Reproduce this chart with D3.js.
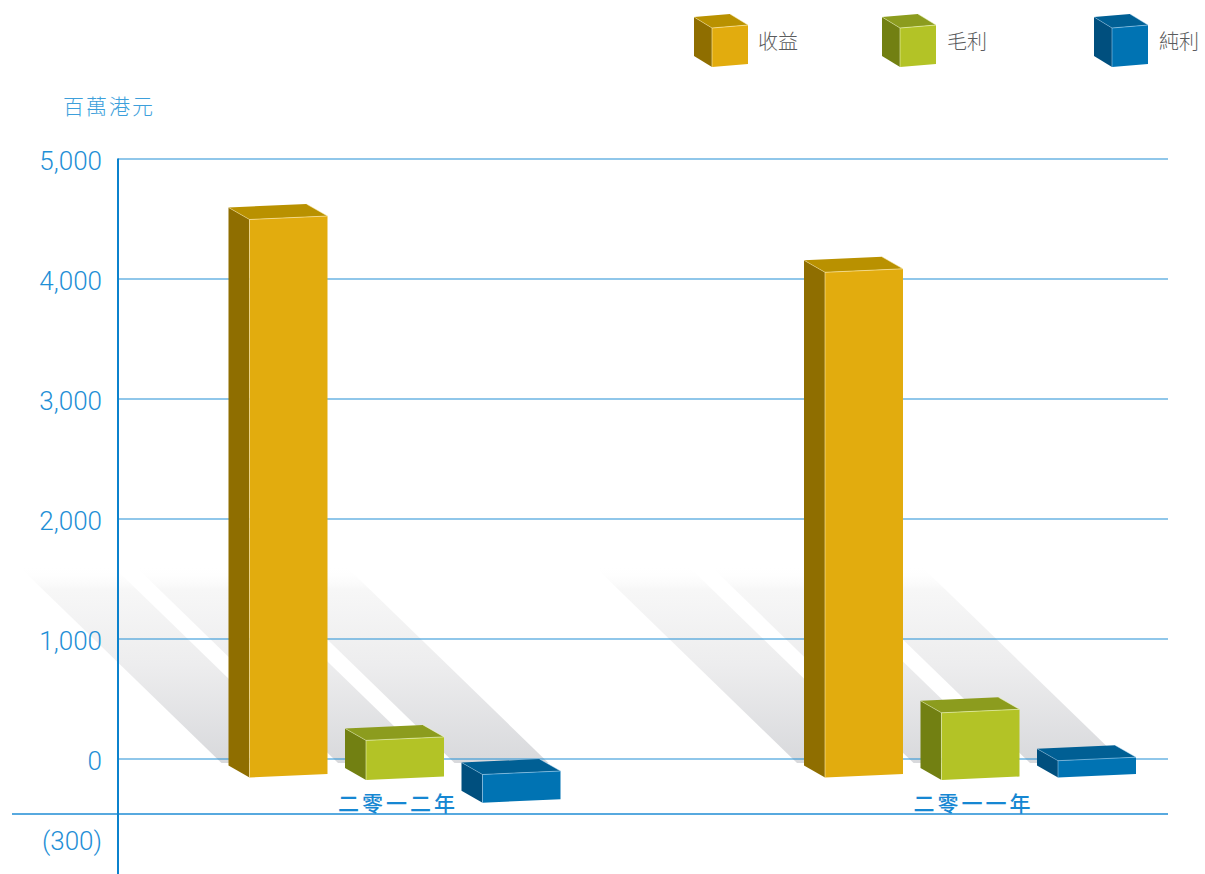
<!DOCTYPE html>
<html>
<head>
<meta charset="utf-8">
<script src="https://cdn.jsdelivr.net/npm/d3@7/dist/d3.min.js"></script>
<style>
  html, body { margin: 0; padding: 0; background: #ffffff; }
  svg { display: block; }
</style>
</head>
<body>
<svg id="chart" width="1205" height="874"></svg>
<script>
// ---------------- DATA ----------------
const categories = ["二零一二年", "二零一一年"];
const seriesNames = ["收益", "毛利", "純利"];
const revenue = [4650, 4210];
const grossProfit = [330, 560];
const netProfit = [-235, 140];
const yTicks = [0, 1000, 2000, 3000, 4000, 5000];
const yTickLabels = ["0", "1,000", "2,000", "3,000", "4,000", "5,000"];
const floorTickLabel = "(300)";
const unitLabel = "百萬港元";

// ---------------- STYLE / LAYOUT ----------------
const seriesValues = [revenue, grossProfit, netProfit];
const faceColors = [
  { front: "#e2ac0e", side: "#8f6e00", top: "#b99100", edge: "rgba(255,240,190,0.7)" },
  { front: "#b3c326", side: "#728012", top: "#8c9c1e", edge: "rgba(240,250,200,0.7)" },
  { front: "#0073b3", side: "#004f7e", top: "#005f94", edge: "rgba(190,225,250,0.6)" }
];
const blue = "#1f8fd6";
const svg = d3.select("#chart");

const y = d3.scaleLinear().domain([0, 5000]).range([759, 159]);
const xGroup = d3.scaleBand().domain(categories).range([210, 1361]);
const xSeries = d3.scaleBand().domain(seriesNames).range([39.5, 350.5]).paddingInner(0.3305).paddingOuter(0);

const plotLeft = 118, plotRight = 1168;
const depthX = 21, depthY = 12, tilt = 3.5, frontDrop = 18.5;
const floorY = y(0) + 55;

// gradient for shadows
const defs = svg.append("defs");
const grad = defs.append("linearGradient").attr("id", "shadowGrad")
  .attr("gradientUnits", "userSpaceOnUse").attr("x1", 0).attr("y1", 566).attr("x2", 0).attr("y2", 763);
grad.append("stop").attr("offset", 0).attr("stop-color", "#ffffff").attr("stop-opacity", 0);
grad.append("stop").attr("offset", 0.12).attr("stop-color", "#f7f7f7").attr("stop-opacity", 1);
grad.append("stop").attr("offset", 0.5).attr("stop-color", "#ededee").attr("stop-opacity", 1);
grad.append("stop").attr("offset", 1).attr("stop-color", "#d8d9dc").attr("stop-opacity", 1);

// build bar records
const bars = [];
categories.forEach((c, ci) => {
  seriesNames.forEach((s, si) => {
    bars.push({ cat: c, series: s, si: si, value: seriesValues[si][ci] });
  });
});

// ---------------- SHADOWS ----------------
const shadowTop = 568, shadowBottom = 763, slant = 1.03;
svg.append("g").selectAll("polygon").data(bars).join("polygon")
  .attr("fill", "url(#shadowGrad)")
  .attr("points", d => {
    const fx = xGroup(d.cat) + xSeries(d.series);
    const bx = fx - depthX - 7;
    const w = 94;
    const off = slant * (shadowBottom - shadowTop);
    return [[bx, shadowBottom], [bx + w, shadowBottom], [bx + w - off, shadowTop], [bx - off, shadowTop]]
      .map(p => p.join(",")).join(" ");
  });

// ---------------- GRID & AXES ----------------
const grid = svg.append("g");
grid.selectAll("line.grid").data(yTicks).join("line")
  .attr("class", "grid")
  .attr("x1", plotLeft).attr("x2", plotRight)
  .attr("y1", d => y(d)).attr("y2", d => y(d))
  .attr("stroke", "#228fd5").attr("stroke-width", 1.2);
grid.append("line")
  .attr("x1", 12).attr("x2", plotRight).attr("y1", floorY).attr("y2", floorY)
  .attr("stroke", "#1f8dd4").attr("stroke-width", 1.3);
grid.append("line")
  .attr("x1", plotLeft).attr("x2", plotLeft).attr("y1", y(5000) - 0.6).attr("y2", 874)
  .attr("stroke", "#0b82cd").attr("stroke-width", 2);

const tickFont = "Roboto, 'Helvetica Neue', 'Liberation Sans', sans-serif";
svg.append("g").selectAll("text").data(yTicks).join("text")
  .attr("x", 102).attr("y", d => y(d) + 2)
  .attr("text-anchor", "end").attr("dominant-baseline", "central")
  .attr("font-family", tickFont).attr("font-weight", 300).attr("font-size", 26)
  .attr("fill", blue)
  .text((d, i) => yTickLabels[i]);
svg.append("text")
  .attr("x", 102).attr("y", y(0) + 82)
  .attr("text-anchor", "end").attr("dominant-baseline", "central")
  .attr("font-family", tickFont).attr("font-weight", 300).attr("font-size", 26)
  .attr("fill", blue).text(floorTickLabel);

svg.append("text")
  .attr("x", 63).attr("y", 105)
  .attr("dominant-baseline", "central")
  .attr("font-family", "'Noto Sans CJK TC', 'Noto Sans CJK SC', sans-serif")
  .attr("font-weight", 300).attr("font-size", 21).attr("letter-spacing", 2)
  .attr("fill", "#3d9fdb").text(unitLabel);

// ---------------- BOX DRAWING ----------------
function drawBox(g, fx, w, yt, yb, dx, dy, tl, col) {
  const pts = a => a.map(p => p.join(",")).join(" ");
  g.append("polygon").attr("fill", col.side)
    .attr("points", pts([[fx - dx, yt - dy], [fx, yt], [fx, yb], [fx - dx, yb - dy]]));
  g.append("polygon").attr("fill", col.top)
    .attr("points", pts([[fx - dx, yt - dy], [fx + w - dx, yt - tl - dy], [fx + w, yt - tl], [fx, yt]]));
  g.append("polygon").attr("fill", col.front)
    .attr("points", pts([[fx, yt], [fx + w, yt - tl], [fx + w, yb - tl], [fx, yb]]));
  g.append("polyline").attr("fill", "none").attr("stroke", col.edge).attr("stroke-width", 0.8)
    .attr("points", pts([[fx, yb], [fx, yt], [fx + w, yt - tl], [fx + w - dx, yt - tl - dy]]));
  g.append("polyline").attr("fill", "none").attr("stroke", col.edge).attr("stroke-width", 0.6)
    .attr("points", pts([[fx, yt], [fx - dx, yt - dy]]));
}

// ---------------- BARS ----------------
const barG = svg.append("g");
bars.forEach(d => {
  const fx = xGroup(d.cat) + xSeries(d.series);
  const drop = d.value < 0 ? frontDrop - 3 : frontDrop + (d.si === 1 ? 2.5 : 0);
  const yt = y(Math.max(0, d.value)) + drop;
  const yb = y(Math.min(0, d.value)) + drop;
  drawBox(barG, fx, xSeries.bandwidth(), yt, yb, depthX, depthY, tilt, faceColors[d.si]);
});

// ---------------- CATEGORY LABELS ----------------
svg.append("g").selectAll("text").data(categories).join("text")
  .attr("x", d => xGroup(d) + xSeries(seriesNames[1]) + xSeries.bandwidth() / 2 - 7)
  .attr("y", 802)
  .attr("text-anchor", "middle").attr("dominant-baseline", "central")
  .attr("font-family", "'Noto Sans CJK TC', 'Noto Sans CJK SC', sans-serif")
  .attr("font-weight", 500).attr("font-size", 21).attr("letter-spacing", 3)
  .attr("fill", "#1687d2")
  .text(d => d);

// ---------------- LEGEND ----------------
const legendFrontX = [712, 900, 1112];
const legendG = svg.append("g");
seriesNames.forEach((s, i) => {
  drawBox(legendG, legendFrontX[i], 36, 28, 67, 18, 11, 3, faceColors[i]);
  legendG.append("text")
    .attr("x", legendFrontX[i] + 36 + 10 + (i === 0 ? 0 : 1))
    .attr("y", 40)
    .attr("dominant-baseline", "central")
    .attr("font-family", "'Noto Sans CJK TC', 'Noto Sans CJK SC', sans-serif")
    .attr("font-weight", 300).attr("font-size", 20)
    .attr("fill", "#5a5b5d").text(s);
});
</script>
</body>
</html>
